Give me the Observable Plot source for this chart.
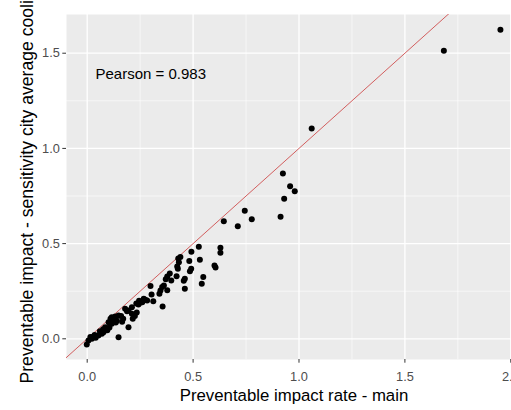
<!DOCTYPE html>
<html><head><meta charset="utf-8">
<script src="https://cdn.jsdelivr.net/npm/d3@7"></script>
<script src="https://cdn.jsdelivr.net/npm/@observablehq/plot@0.6"></script>
<style>html,body{margin:0;padding:0;background:#fff;overflow:hidden;} svg{display:block;overflow:hidden;}</style>
</head><body>
<script>
// Preventable impact rate - main (x) vs sensitivity (y)
const xMain = [1.951,1.684,1.060,
 0.924,0.958,0.980,0.930,0.913,
 0.744,0.777,0.711,0.645,
 0.629,0.629,0.601,0.606,
 0.527,0.532,0.548,0.541,
 0.492,0.482,0.491,0.485,
 0.461,0.456,0.461,
 0.440,0.430,0.433,0.425,0.428,0.422,
 0.397,0.390,0.378,0.371,0.378,
 0.362,0.354,0.346,0.356,
 0.299,0.304,0.341,0.312,
 0.267,0.260,0.274,0.283,0.245,0.250,
 0.242,0.232,0.211,0.195,0.234,0.211,
 0.188,0.179,0.195,0.225,0.215,
 0.148,0.132,0.116,0.110,0.148,0.125,
 0.116,0.101,0.085,0.077,0.069,0.060,
 0.053,0.030,0.022,0.006,-0.002,0.035,0.040,0.015,
 0.160,0.170,0.165,0.140,0.135,0.105,0.095,0.075];
const ySens = [1.623,1.513,1.104,
 0.868,0.801,0.775,0.735,0.641,
 0.672,0.628,0.591,0.617,
 0.478,0.452,0.385,0.375,
 0.483,0.415,0.324,0.289,
 0.457,0.408,0.368,0.355,
 0.315,0.305,0.263,
 0.429,0.422,0.402,0.380,0.368,0.328,
 0.306,0.343,0.327,0.313,0.255,
 0.280,0.272,0.254,0.170,
 0.277,0.233,0.236,0.197,
 0.210,0.192,0.205,0.201,0.200,0.190,
 0.180,0.185,0.166,0.149,0.138,0.131,
 0.145,0.158,0.061,0.120,0.105,
 0.122,0.117,0.113,0.105,0.008,0.100,
 0.079,0.087,0.061,0.035,0.026,0.040,
 0.017,0.012,0.000,-0.009,-0.030,0.020,0.005,0.010,
 0.120,0.105,0.090,0.095,0.085,0.060,0.045,0.050];
const xTicks = [0, 0.5, 1, 1.5, 2];
const yTicks = [0, 0.5, 1, 1.5];
const xMinor = [0.25, 0.75, 1.25, 1.75];
const yMinor = [0.25, 0.75, 1.25];
const pearsonLabel = "Pearson = 0.983";
const xTitle = "Preventable impact rate - main";
const yTitle = "Preventable impact - sensitivity city average cooling";

const points = xMain.map((x, i) => ({x, y: ySens[i]}));
const xDomain = [-0.0977, 2.0033];
const yDomain = [-0.1087, 1.7033];
const diag = [{a: xDomain[0] - 0.2, b: xDomain[1] + 0.2}];

const chart = Plot.plot({
  width: 511, height: 410,
  marginLeft: 66, marginRight: 0, marginTop: 14, marginBottom: 51,
  x: {domain: xDomain}, y: {domain: yDomain},
  style: {fontFamily: "'Liberation Sans', Arial, sans-serif", background: "white"},
  marks: [
    Plot.frame({fill: "#EBEBEB", stroke: null}),
    Plot.ruleX(xMinor, {stroke: "white", strokeWidth: 0.6}),
    Plot.ruleY(yMinor, {stroke: "white", strokeWidth: 0.6}),
    Plot.ruleX(xTicks, {stroke: "white", strokeWidth: 1.3}),
    Plot.ruleY(yTicks, {stroke: "white", strokeWidth: 1.3}),
    Plot.link(diag, {x1: "a", y1: "a", x2: "b", y2: "b", stroke: "#cc3a3a", strokeWidth: 0.8, clip: true}),
    Plot.dot(points, {x: "x", y: "y", r: 3, fill: "black", stroke: null}),
    Plot.text([pearsonLabel], {frameAnchor: "top-left", textAnchor: "start", lineAnchor: "bottom", dx: 29, dy: 64, fontSize: 15, fill: "black"}),
    Plot.axisX(xTicks, {tickSize: 3.7, tickPadding: 8.3, tickFormat: d3.format(".1f"), fontSize: 12.8, label: null, stroke: "#333333", fill: "#4D4D4D"}),
    Plot.axisY(yTicks, {tickSize: 3.7, tickPadding: 2.9, tickFormat: d3.format(".1f"), fontSize: 12.8, label: null, stroke: "#333333", fill: "#4D4D4D"}),
    Plot.text([xTitle], {frameAnchor: "bottom", textAnchor: "middle", lineAnchor: "bottom", dx: 5, dy: 41, fontSize: 16.8, fill: "black"}),
    Plot.text([yTitle], {frameAnchor: "bottom-left", textAnchor: "start", lineAnchor: "bottom", rotate: -90, dx: -34, dy: 24, fontSize: 17.6, fill: "black"})
  ]
});
document.body.appendChild(chart);
</script>
</body></html>
